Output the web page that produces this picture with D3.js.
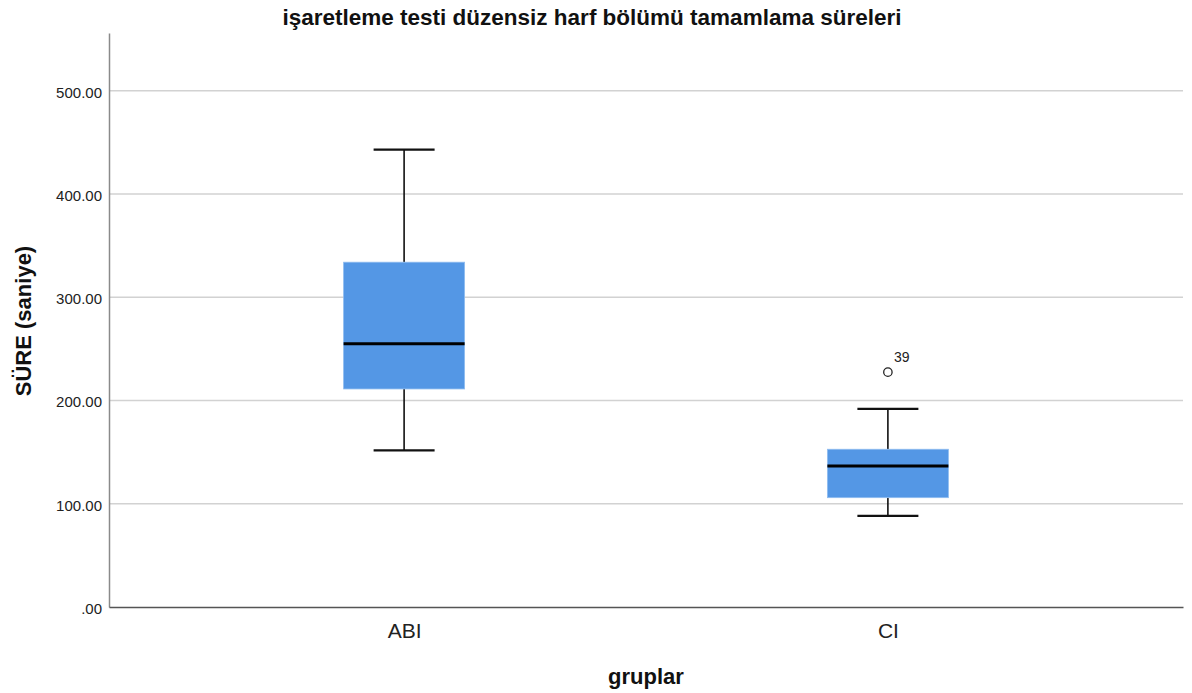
<!DOCTYPE html>
<html>
<head>
<meta charset="utf-8">
<script src="https://cdn.jsdelivr.net/npm/d3@7"></script>
<style>
  body { margin: 0; background: #fff; }
  text { font-family: "Liberation Sans", Arial, sans-serif; }
</style>
</head>
<body>
<div id="chart"></div>
<script>
// Box plot data
const groups = ['ABI', 'CI']
const whiskerLow = [151.8, 88.2]
const q1 = [211.2, 105.9]
const medians = [255.1, 136.6]
const q3 = [334.0, 152.8]
const whiskerHigh = [443.1, 191.9]
const outlierGroup = ['CI']
const outlierValues = [227.5]
const outlierLabels = ['39']
const yTicks = [0, 100, 200, 300, 400, 500]

const width = 1192
const height = 693
const margin = { top: 33, right: 9, bottom: 86, left: 109 }

const svg = d3.select('#chart')
  .append('svg')
  .attr('width', width)
  .attr('height', height)

const x = d3.scalePoint()
  .domain(groups)
  .range([margin.left, width - margin.right])
  .padding(0.61)

const y = d3.scaleLinear()
  .domain([0, 556])
  .range([height - margin.bottom, margin.top])

// gridlines
svg.append('g')
  .selectAll('line')
  .data(yTicks.filter(d => d > 0))
  .join('line')
  .attr('x1', margin.left)
  .attr('x2', width - margin.right)
  .attr('y1', d => y(d))
  .attr('y2', d => y(d))
  .attr('stroke', '#d2d2d2')
  .attr('stroke-width', 1.6)

// y axis
const yAxis = svg.append('g')
  .attr('transform', `translate(${margin.left},0)`)
  .call(d3.axisLeft(y).tickValues(yTicks).tickSize(0).tickPadding(7)
    .tickFormat(d => d === 0 ? '.00' : d3.format('.2f')(d)))
yAxis.select('.domain').attr('stroke', '#8a8a8a').attr('stroke-width', 1.5)
yAxis.selectAll('text').attr('font-size', 15).attr('fill', '#222').attr('dy', '0.42em')

// x axis
const xAxis = svg.append('g')
  .attr('transform', `translate(0,${height - margin.bottom})`)
  .call(d3.axisBottom(x).tickSize(0).tickPadding(16))
xAxis.select('.domain').attr('stroke', '#555').attr('stroke-width', 1.5)
xAxis.selectAll('text').attr('font-size', 21).attr('fill', '#222')

const boxW = 121
const capW = 61

const box = svg.append('g')
  .selectAll('g')
  .data(groups)
  .join('g')

// whiskers
box.append('line')
  .attr('x1', d => x(d)).attr('x2', d => x(d))
  .attr('y1', (d, i) => y(whiskerHigh[i])).attr('y2', (d, i) => y(q3[i]))
  .attr('stroke', '#111').attr('stroke-width', 1.6)
box.append('line')
  .attr('x1', d => x(d)).attr('x2', d => x(d))
  .attr('y1', (d, i) => y(q1[i])).attr('y2', (d, i) => y(whiskerLow[i]))
  .attr('stroke', '#111').attr('stroke-width', 1.6)
box.append('line')
  .attr('x1', d => x(d) - capW / 2).attr('x2', d => x(d) + capW / 2)
  .attr('y1', (d, i) => y(whiskerHigh[i])).attr('y2', (d, i) => y(whiskerHigh[i]))
  .attr('stroke', '#111').attr('stroke-width', 2.2)
box.append('line')
  .attr('x1', d => x(d) - capW / 2).attr('x2', d => x(d) + capW / 2)
  .attr('y1', (d, i) => y(whiskerLow[i])).attr('y2', (d, i) => y(whiskerLow[i]))
  .attr('stroke', '#111').attr('stroke-width', 2.2)

// boxes
box.append('rect')
  .attr('x', d => x(d) - boxW / 2)
  .attr('width', boxW)
  .attr('y', (d, i) => y(q3[i]))
  .attr('height', (d, i) => y(q1[i]) - y(q3[i]))
  .attr('fill', '#5497e5')
  .attr('stroke', '#8fbcf0')
  .attr('stroke-width', 0.8)

// medians
box.append('line')
  .attr('x1', d => x(d) - boxW / 2).attr('x2', d => x(d) + boxW / 2)
  .attr('y1', (d, i) => y(medians[i])).attr('y2', (d, i) => y(medians[i]))
  .attr('stroke', '#000').attr('stroke-width', 3)

// outliers
svg.append('g')
  .selectAll('circle')
  .data(outlierValues)
  .join('circle')
  .attr('cx', (d, i) => x(outlierGroup[i]))
  .attr('cy', d => y(d))
  .attr('r', 4.2)
  .attr('fill', 'none')
  .attr('stroke', '#222')
  .attr('stroke-width', 1.3)

svg.append('g')
  .selectAll('text')
  .data(outlierValues)
  .join('text')
  .attr('x', (d, i) => x(outlierGroup[i]) + 6)
  .attr('y', d => y(d) - 10)
  .attr('font-size', 14)
  .attr('fill', '#222')
  .text((d, i) => outlierLabels[i])

// title
svg.append('text')
  .attr('x', 592)
  .attr('y', 25)
  .attr('text-anchor', 'middle')
  .attr('font-size', 22.5)
  .attr('font-weight', 'bold')
  .attr('fill', '#111')
  .text('işaretleme testi düzensiz harf bölümü tamamlama süreleri')

// axis titles
svg.append('text')
  .attr('transform', `translate(31,321) rotate(-90)`)
  .attr('text-anchor', 'middle')
  .attr('font-size', 22)
  .attr('font-weight', 'bold')
  .attr('fill', '#111')
  .text('SÜRE (saniye)')

svg.append('text')
  .attr('x', (margin.left + width - margin.right) / 2)
  .attr('y', 684)
  .attr('text-anchor', 'middle')
  .attr('font-size', 22)
  .attr('font-weight', 'bold')
  .attr('fill', '#111')
  .text('gruplar')
</script>
</body>
</html>
